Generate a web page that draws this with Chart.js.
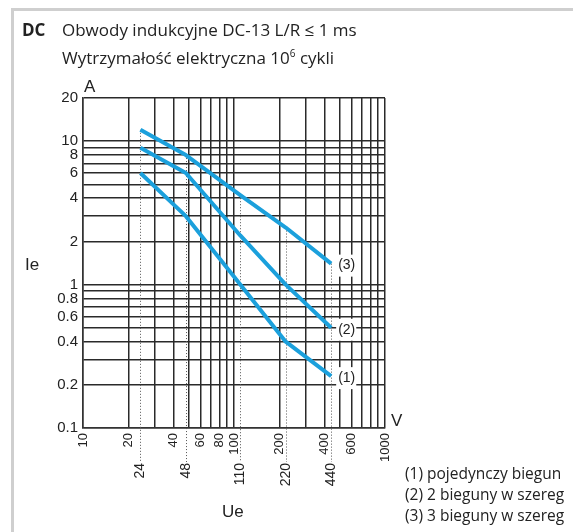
<!DOCTYPE html>
<html><head><meta charset="utf-8">
<script src="https://cdn.jsdelivr.net/npm/chart.js@4"></script>
<style>
html,body{margin:0;padding:0;background:#fff;}
#wrap{position:relative;width:573px;height:532px;overflow:hidden;background:#fff;}
#frame{position:absolute;left:11px;top:8px;width:700px;height:700px;border-left:3px solid #cfcfcf;border-top:3px solid #cfcfcf;}
canvas{position:absolute;left:0;top:0;}
.t{position:absolute;white-space:nowrap;color:#222;line-height:1;}
.g{font-family:"Open Sans","Lato",sans-serif;font-size:17px;}
.a{font-family:"Liberation Sans",Arial,sans-serif;font-size:17px;}
.lg{font-family:"Open Sans","Lato",sans-serif;font-size:15.5px;}
sup{font-size:10px;vertical-align:7px;}
</style></head>
<body>
<div id="wrap">
<div id="frame"></div>
<canvas id="c" width="573" height="532"></canvas>
<div class="t g" style="left:22px;top:21px;font-weight:bold;">DC</div>
<div class="t g" style="left:62px;top:21px;">Obwody indukcyjne DC-13 L/R ≤ 1 ms</div>
<div class="t g" style="left:62px;top:48px;">Wytrzymałość elektryczna 10<sup>6</sup> cykli</div>
<div class="t a" style="left:84px;top:78px;">A</div>
<div class="t a" style="left:25px;top:256px;">Ie</div>
<div class="t a" style="left:391px;top:412px;">V</div>
<div class="t a" style="left:222px;top:503px;">Ue</div>
<div class="t lg" style="left:405px;top:466px;">(1) pojedynczy biegun</div>
<div class="t lg" style="left:405px;top:487px;">(2) 2 bieguny w szereg</div>
<div class="t lg" style="left:405px;top:508px;">(3) 3 bieguny w szereg</div>
</div>
<script>
// ---- data ----
const voltages = [24, 48, 110, 220, 440];
const series1 = [6, 3, 1.0, 0.4, 0.23];
const series2 = [9, 6, 2.2, 1.0, 0.5];
const series3 = [12, 8, 4.2, 2.5, 1.4];
const curveLabels = ['(1)', '(2)', '(3)'];
const xGrid = [10,20,30,40,50,60,70,80,90,100,200,300,400,500,600,700,800,900,1000];
const xTickLabels = [10,20,40,60,80,100,200,400,600,1000];
const yGrid = [0.1,0.2,0.3,0.4,0.5,0.6,0.7,0.8,0.9,1,2,3,4,5,6,7,8,9,10,20];
const yTickLabels = [0.1,0.2,0.4,0.6,0.8,1,2,4,6,8,10,20];
const voltageLabels = ['24','48','110','220','440'];

const curveColor = '#1ba0dc';
const gridColor = '#2a2a2a';

function mk(vals){ return voltages.map((v,i)=>({x:v,y:vals[i]})); }

const extras = {
  id:'extras',
  beforeDatasetsDraw(chart){
    const ctx = chart.ctx, xs = chart.scales.x, ys = chart.scales.y;
    ctx.save();
    ctx.strokeStyle = '#555'; ctx.lineWidth = 1; ctx.setLineDash([1,2]);
    voltages.forEach((v,i)=>{
      const x = Math.round(xs.getPixelForValue(v))+0.5;
      const y = ys.getPixelForValue(series3[i]);
      ctx.beginPath(); ctx.moveTo(x,y); ctx.lineTo(x,chart.chartArea.bottom+34); ctx.stroke();
    });
    ctx.restore();
  },
  afterDatasetsDraw(chart){
    const ctx = chart.ctx, xs = chart.scales.x, ys = chart.scales.y;
    ctx.save();
    ctx.font = '14px "Liberation Sans", Arial, sans-serif';
    ctx.fillStyle = '#222';
    voltages.forEach((v,i)=>{
      const x = xs.getPixelForValue(v);
      ctx.save();
      ctx.translate(x, chart.chartArea.bottom+35);
      ctx.rotate(-Math.PI/2);
      ctx.textAlign='right'; ctx.textBaseline='middle';
      ctx.fillText(voltageLabels[i],0,0);
      ctx.restore();
    });
    const last = voltages.length-1;
    [series1,series2,series3].forEach((s,k)=>{
      const x = xs.getPixelForValue(voltages[last])+6;
      const y = ys.getPixelForValue(s[last])+2;
      const w = ctx.measureText(curveLabels[k]).width;
      ctx.fillStyle='#fff';
      ctx.fillRect(x-1,y-11,w+3,22);
      ctx.fillStyle='#222';
      ctx.textAlign='left'; ctx.textBaseline='middle';
      ctx.fillText(curveLabels[k],x+1,y);
    });
    ctx.restore();
  }
};

new Chart(document.getElementById('c'), {
  type:'line',
  data:{datasets:[
    {label:curveLabels[0],data:mk(series1)},
    {label:curveLabels[1],data:mk(series2)},
    {label:curveLabels[2],data:mk(series3)}
  ].map(d=>Object.assign(d,{borderColor:curveColor,borderWidth:4,pointRadius:0,tension:0,fill:false,borderJoinStyle:'round',borderCapStyle:'butt'}))},
  options:{
    responsive:false, animation:false,
    layout:{padding:{left:0,top:98,right:188,bottom:0}},
    plugins:{legend:{display:false},title:{display:false},tooltip:{enabled:false}},
    scales:{
      x:{type:'logarithmic',min:10,max:1000,
        afterBuildTicks:s=>{s.ticks=xGrid.map(v=>({value:v}));},
        afterFit:s=>{s.height=104;},
        grid:{color:gridColor,lineWidth:1.5,drawTicks:false},
        border:{color:'#333',width:1.5},
        ticks:{autoSkip:false,maxRotation:90,minRotation:90,padding:5,color:'#222',
          font:{family:'"Liberation Sans", Arial, sans-serif',size:13},
          callback:(v)=>xTickLabels.includes(v)?String(v):''}
      },
      y:{type:'logarithmic',min:0.1,max:20,
        afterBuildTicks:s=>{s.ticks=yGrid.map(v=>({value:v}));},
        afterFit:s=>{s.width=83;},
        grid:{color:gridColor,lineWidth:1.5,drawTicks:false},
        border:{color:'#333',width:1.5},
        ticks:{autoSkip:false,padding:5,color:'#222',
          font:{family:'"Liberation Sans", Arial, sans-serif',size:15},
          callback:(v)=>yTickLabels.includes(v)?String(v):''}
      }
    }
  },
  plugins:[extras]
});
</script>
</body></html>
